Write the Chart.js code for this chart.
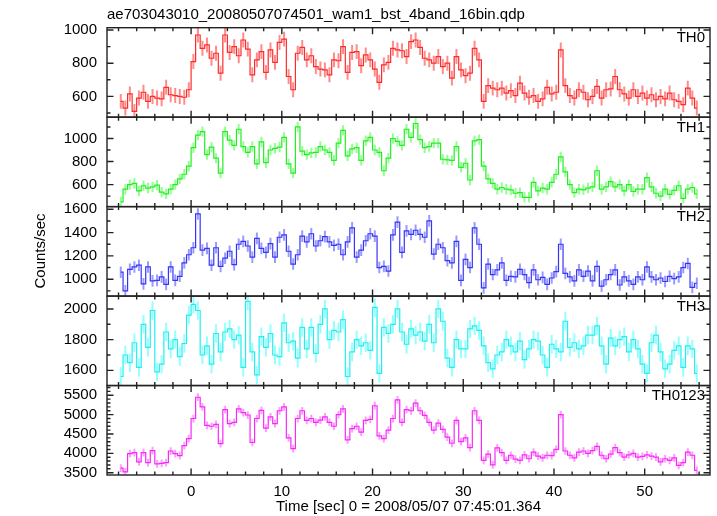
<!DOCTYPE html>
<html>
<head>
<meta charset="utf-8">
<script src="https://cdn.jsdelivr.net/npm/chart.js@4.4.1/dist/chart.umd.min.js"></script>
<style>
  html, body { margin: 0; padding: 0; background: #fff; }
  canvas { display: block; }
</style>
</head>
<body>
<canvas id="lc" width="717" height="516"></canvas>
<script>
// light curves, 0.5 s bins, first bin centre at -7.75 s
const tStart = -7.75;
const binWidth = 0.5;

const th0 = [
    570, 530, 615, 510, 590, 625, 570, 600, 590, 585, 655, 610, 605, 600, 595, 640,
    810, 970, 890, 910, 830, 860, 740, 970, 865, 900, 845, 940, 885, 730, 820, 870,
    745, 880, 805, 925, 945, 720, 640, 860, 895, 820, 845, 780, 765, 760, 730, 820,
    815, 900, 745, 865, 870, 785, 850, 820, 765, 685, 790, 805, 890, 880, 875, 840,
    930, 940, 895, 830, 820, 800, 840, 780, 800, 710, 840, 760, 725, 740, 890, 820,
    570, 665, 650, 640, 650, 620, 635, 605, 680, 620, 595, 605, 570, 585, 655, 615,
    625, 880, 665, 605, 590, 640, 625, 580, 600, 660, 590, 640, 645, 720, 640, 615,
    590, 640, 600, 620, 590, 610, 580, 600, 585, 620, 580, 570, 550, 650, 590, 530
];
const th1 = [
    450, 560, 600, 610, 545, 590, 570, 580, 595, 535, 520, 560, 600, 650, 690, 760,
    920, 1030, 1060, 860, 925, 830, 700, 1060, 985, 940, 1080, 930, 880, 930, 780, 970,
    790, 900, 915, 925, 1010, 780, 700, 1100, 890, 860, 875, 880, 930, 900, 880, 810,
    960, 1070, 850, 910, 920, 810, 980, 1010, 900, 880, 720, 830, 1000, 975, 940, 1080,
    1010, 1130, 990, 920, 930, 960, 960, 820, 815, 810, 930, 750, 785, 640, 980, 990,
    760, 650, 610, 560, 575, 560, 555, 525, 530, 490, 490, 620, 545, 570, 560, 620,
    690, 840, 710, 600, 530, 560, 555, 570, 580, 720, 560, 580, 625, 580, 600, 545,
    600, 540, 560, 560, 660, 580, 525, 500, 560, 515, 550, 590, 480, 560, 575, 520
];
const th2 = [
    1060, 900, 1085, 1105, 1120, 960, 1105, 985, 990, 1020, 955, 1105, 990, 1025, 1140, 1210,
    1270, 1560, 1250, 1265, 1120, 1270, 1110, 1180, 1240, 1125, 1300, 1325, 1285, 1190, 1350, 1265,
    1230, 1305, 1190, 1360, 1380, 1240, 1130, 1210, 1370, 1320, 1390, 1285, 1330, 1365, 1320, 1290,
    1300, 1210, 1320, 1440, 1190, 1250, 1330, 1390, 1370, 1100, 1110, 1070, 1380, 1490, 1230, 1415,
    1385, 1420, 1385, 1360, 1500, 1215, 1300, 1270, 1160, 1140, 1325, 990, 1170, 1100, 1440, 1300,
    925, 1130, 1040, 1080, 1140, 990, 1025, 1020, 1085, 1040, 970, 1080, 995, 1015, 955, 1010,
    1065, 1300, 1050, 1020, 985, 1080, 1025, 1070, 985, 1110, 940, 995, 1040, 1080, 950, 1020,
    985, 955, 1020, 995, 1105, 1020, 995, 1010, 980, 1025, 1005, 1020, 1100, 1135, 930, 965
];
const th3 = [
    1560, 1700, 1650, 1780, 1620, 1900, 1750, 1990, 1590, 1640, 1850, 1740, 1800, 1690, 1775, 1960,
    2030, 1990, 1700, 1760, 1640, 1840, 1720, 1850, 1870, 1800, 1830, 1620, 2050, 1720, 1570, 1820,
    1750, 1840, 1700, 1690, 1910, 1780, 1790, 1680, 1880, 1740, 1880, 1710, 1900, 2000, 1800, 1860,
    1850, 1930, 1560, 1720, 1800, 1760, 1780, 1730, 2010, 1580, 1880, 1840, 1900, 2000, 1850, 1770,
    1870, 1830, 1850, 1790, 1900, 1780, 2000, 1920, 1680, 1620, 1800, 1740, 1740, 1870, 1890, 1860,
    1760, 1650, 1610, 1700, 1720, 1800, 1760, 1720, 1790, 1670, 1740, 1800, 1790, 1700, 1620, 1770,
    1740, 1720, 1920, 1750, 1780, 1740, 1760, 1830, 1830, 1890, 1760, 1640, 1810, 1760, 1800, 1820,
    1720, 1800, 1740, 1640, 1580, 1780, 1830, 1720, 1610, 1640, 1730, 1760, 1620, 1760, 1740, 1580
];
const th0123 = [
    3620, 3520, 3990, 4020, 3780, 4020, 3760, 4070, 3730, 3740, 3760, 4060, 3990, 3940, 4200, 4380,
    4900, 5450, 5200, 4720, 4700, 4750, 4250, 5130, 4770, 4800, 5150, 5050, 4990, 4280, 4900, 5110,
    4650, 4940, 4770, 5100, 5200, 4400, 4120, 4900, 5100, 4850, 4900, 4800, 4860, 4940, 4800, 4700,
    5000, 5150, 4350, 4640, 4700, 4550, 4850, 4880, 5230, 4450, 4380, 4600, 4900, 5380, 4800, 5130,
    5100, 5300, 5100, 4980, 4800, 4600, 4780, 4620, 4420, 4260, 4850, 4300, 4400, 4150, 5100, 4850,
    3820, 3980, 3700, 4140, 4020, 3820, 3950, 3850, 3820, 3960, 3860, 4030, 3930, 3880, 3950, 3940,
    4100, 5000, 4060, 3950, 3880, 4030, 4060, 4000, 4070, 4180, 3950, 3860, 3980, 4150, 4020, 3900,
    3960, 4000, 3900, 3920, 3960, 3930, 3900, 3780, 3860, 3820, 3880, 3690, 3760, 4030, 3950, 3560
];

// 1 sigma error per panel (counts/sec)
const errTH = [45, 45, 50, 60, 100];

const panelNames = ['TH0', 'TH1', 'TH2', 'TH3', 'TH0123'];
const xTicks = [0, 10, 20, 30, 40, 50];
const yTicksTH0 = [600, 800, 1000];
const yTicksTH1 = [600, 800, 1000];
const yTicksTH2 = [1000, 1200, 1400, 1600];
const yTicksTH3 = [1600, 1800, 2000];
const yTicksTH0123 = [3500, 4000, 4500, 5000, 5500];

const time = th0.map((_, i) => tStart + i * binWidth);

// panel setup: range, minor tick step, colours
const panels = [
    { id: 'y0', data: th0,    ticks: yTicksTH0,    min: 475,  max: 1014, minor: 100, line: '#ff2a2a', bar: 'rgba(255,110,110,0.8)' },
    { id: 'y1', data: th1,    ticks: yTicksTH1,    min: 409,  max: 1185, minor: 100, line: '#22ee22', bar: 'rgba(120,255,120,0.8)' },
    { id: 'y2', data: th2,    ticks: yTicksTH2,    min: 855,  max: 1623, minor: 100, line: '#3535f5', bar: 'rgba(130,130,255,0.8)' },
    { id: 'y3', data: th3,    ticks: yTicksTH3,    min: 1501, max: 2084, minor: 100, line: '#22eeee', bar: 'rgba(120,255,255,0.8)' },
    { id: 'y4', data: th0123, ticks: yTicksTH0123, min: 3440, max: 5752, minor: 100, line: '#f52af5', bar: 'rgba(255,130,255,0.8)' }
];

const FONT = "'Liberation Sans', Arial, Helvetica, sans-serif";
const plainLabel = v => String(v);

const scales = {
    x: {
        type: 'linear', position: 'bottom', min: -9.27, max: 57.2,
        grid: { display: false, drawTicks: false },
        border: { display: false },
        afterBuildTicks: s => { s.ticks = xTicks.map(v => ({ value: v })); },
        afterFit: s => { s.height = 41; },
        ticks: { color: '#000', font: { family: FONT, size: 15 }, padding: 8, maxRotation: 0, autoSkip: false, callback: plainLabel },
        title: { display: true, text: 'Time [sec] 0 = 2008/05/07 07:45:01.364', color: '#000',
                 font: { family: FONT, size: 15 }, padding: { top: 0, bottom: 0 } }
    }
};
panels.forEach((p, k) => {
    scales[p.id] = {
        type: 'linear', position: 'left', stack: 'lc', stackWeight: 1, weight: 10 - k,
        min: p.min, max: p.max,
        grid: { display: false, drawTicks: false },
        border: { display: false },
        afterBuildTicks: s => { s.ticks = p.ticks.map(v => ({ value: v })); },
        afterFit: s => { s.width = 107; },
        ticks: { color: '#000', font: { family: FONT, size: 15 }, padding: 10, autoSkip: false, callback: plainLabel }
    };
});

// error bars drawn under the step lines
const errorBars = {
    id: 'errorBars',
    beforeDatasetsDraw(chart) {
        const ctx = chart.ctx, xs = chart.scales.x, area = chart.chartArea;
        chart.data.datasets.forEach(ds => {
            const ys = chart.scales[ds.yAxisID];
            ctx.save();
            ctx.beginPath();
            ctx.rect(area.left, ys.top, area.right - area.left, ys.bottom - ys.top);
            ctx.clip();
            ctx.strokeStyle = ds.barColor;
            ctx.lineWidth = 2;
            ctx.beginPath();
            ds.data.forEach(pt => {
                const px = xs.getPixelForValue(pt.x);
                ctx.moveTo(px, ys.getPixelForValue(pt.y - ds.err));
                ctx.lineTo(px, ys.getPixelForValue(pt.y + ds.err));
            });
            ctx.stroke();
            ctx.restore();
        });
    }
};

// frames, inward ticks on every side, panel names, y title
const frames = {
    id: 'frames',
    afterDraw(chart) {
        const ctx = chart.ctx, xs = chart.scales.x, area = chart.chartArea;
        ctx.save();
        ctx.strokeStyle = '#222';
        ctx.lineWidth = 1.4;
        panels.forEach((p, k) => {
            const ys = chart.scales[p.id];
            const top = ys.top, bot = ys.bottom;
            ctx.strokeRect(area.left, top, area.right - area.left, bot - top);
            ctx.beginPath();
            for (let t = -8; t <= 56; t += 2) {
                const px = xs.getPixelForValue(t);
                const len = t % 10 === 0 ? 6.5 : 3.5;
                ctx.moveTo(px, top); ctx.lineTo(px, top + len);
                ctx.moveTo(px, bot); ctx.lineTo(px, bot - len);
            }
            const first = Math.ceil(p.min / p.minor) * p.minor;
            for (let v = first; v <= p.max; v += p.minor) {
                const py = ys.getPixelForValue(v);
                const len = p.ticks.includes(v) ? 6.5 : 3.5;
                ctx.moveTo(area.left, py); ctx.lineTo(area.left + len, py);
                ctx.moveTo(area.right, py); ctx.lineTo(area.right - len, py);
            }
            ctx.stroke();

            ctx.fillStyle = '#000';
            ctx.font = '15px ' + FONT;
            ctx.textAlign = 'right';
            ctx.textBaseline = 'middle';
            ctx.fillText(panelNames[k], area.right - 5, top + 10.5);
        });

        ctx.translate(41, 251);
        ctx.rotate(-Math.PI / 2);
        ctx.textAlign = 'center';
        ctx.textBaseline = 'middle';
        ctx.fillText('Counts/sec', 0, 0);
        ctx.restore();
    }
};

new Chart(document.getElementById('lc'), {
    type: 'line',
    data: {
        datasets: panels.map((p, k) => ({
            label: panelNames[k],
            yAxisID: p.id,
            data: time.map((t, i) => ({ x: t, y: p.data[i] })),
            stepped: 'middle',
            borderColor: p.line,
            borderWidth: 1.2,
            pointRadius: 0,
            fill: false,
            err: errTH[k],
            barColor: p.bar
        }))
    },
    options: {
        responsive: false,
        devicePixelRatio: 1,
        animation: false,
        layout: { padding: { left: 0, right: 7, top: 0, bottom: 0 } },
        scales: scales,
        plugins: {
            legend: { display: false },
            tooltip: { enabled: false },
            title: {
                display: true, align: 'start', fullSize: false,
                text: 'ae703043010_20080507074501_wam1_bst_4band_16bin.qdp',
                color: '#000', font: { family: FONT, size: 15, weight: 'normal' },
                padding: { top: 5.5, bottom: 4.2 }
            }
        }
    },
    plugins: [errorBars, frames]
});
</script>
</body>
</html>
